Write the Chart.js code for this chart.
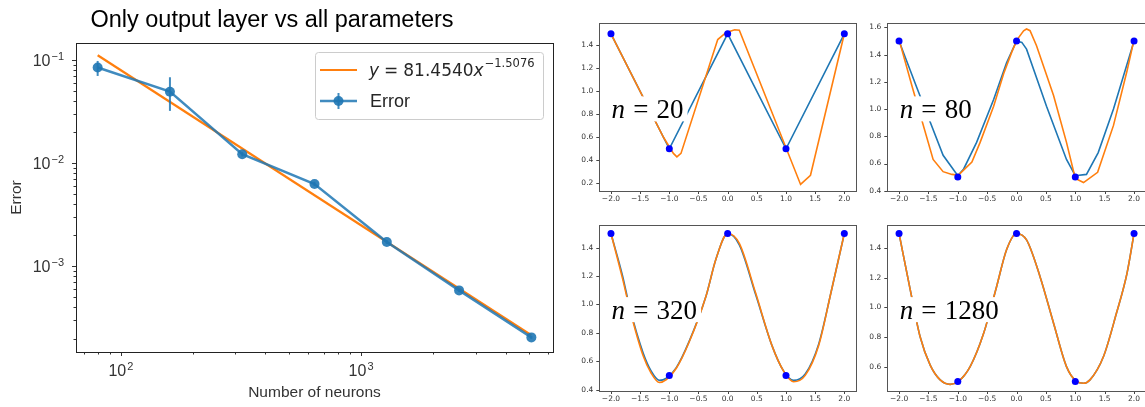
<!DOCTYPE html>
<html>
<head>
<meta charset="utf-8">
<script src="https://cdn.jsdelivr.net/npm/chart.js@4"></script>
<style>
  html, body { margin: 0; padding: 0; background: #fff; width: 1145px; height: 407px; overflow: hidden; }
  .box { position: absolute; }
</style>
</head>
<body>
<div class="box" style="left:0;top:0;width:575px;height:407px"><canvas id="main"></canvas></div>
<div class="box" style="left:575px;top:0;width:285px;height:210px"><canvas id="p20"></canvas></div>
<div class="box" style="left:860px;top:0;width:290px;height:210px"><canvas id="p80"></canvas></div>
<div class="box" style="left:575px;top:205px;width:285px;height:202px"><canvas id="p320"></canvas></div>
<div class="box" style="left:860px;top:205px;width:290px;height:202px"><canvas id="p1280"></canvas></div>
<script>
// ---- main panel data (log-log) ----
const neurons   = [80, 160, 320, 640, 1280, 2560, 5120];
const errorMean = [0.0845, 0.0493, 0.0122, 0.00627, 0.00172, 0.000585, 0.000205];
const errorLow  = [0.070, 0.0321, 0.0116, 0.0060, 0.00165, 0.000565, 0.000198];
const errorHigh = [0.0978, 0.068, 0.0128, 0.0066, 0.00179, 0.000605, 0.000212];
const fitX = [80, 5120];
const fitY = [0.111, 0.000215];
const xTickValues = [70, 80, 90, 100, 200, 300, 400, 500, 600, 700, 800, 900, 1000, 2000, 3000, 4000, 5000, 6000];
const yTickValues = [2e-4, 3e-4, 4e-4, 5e-4, 6e-4, 7e-4, 8e-4, 9e-4, 1e-3, 2e-3, 3e-3, 4e-3, 5e-3, 6e-3, 7e-3, 8e-3, 9e-3,
                     1e-2, 2e-2, 3e-2, 4e-2, 5e-2, 6e-2, 7e-2, 8e-2, 9e-2, 1e-1];
const majorTicks = [1e-3, 1e-2, 1e-1, 100, 1000];

// ---- small panels ----
const sampleX = [-2, -1, 0, 1, 2];
const sampleY = [1.5, 0.5, 1.5, 0.5, 1.5];
const smallXTicks = [-2, -1.5, -1, -0.5, 0, 0.5, 1, 1.5, 2];

const n20BlueX = [-2, -1, 0, 1, 2];
const n20BlueY = [1.5, 0.5, 1.5, 0.5, 1.5];
const n20OrangeX = [-2, -1.1, -0.93, -0.87, -0.8, -0.17, -0.03, 0.12, 0.2, 1.25, 1.42, 2];
const n20OrangeY = [1.5, 0.6, 0.46, 0.43, 0.46, 1.45, 1.51, 1.535, 1.53, 0.19, 0.27, 1.5];
const n20YTicks = [0.2, 0.4, 0.6, 0.8, 1.0, 1.2, 1.4];

const n80BlueX = [-2, -1.7, -1.25, -1.1, -1.0, -0.9, -0.68, -0.39, -0.17, 0, 0.09, 0.17, 0.51, 0.85, 1.0, 1.19, 1.39, 1.65, 2];
const n80BlueY = [1.5, 1.16, 0.66, 0.57, 0.51, 0.56, 0.755, 1.07, 1.34, 1.5, 1.49, 1.44, 1.02, 0.63, 0.51, 0.52, 0.68, 1.0, 1.5];
const n80OrangeX = [-2, -1.78, -1.42, -1.25, -1.1, -0.99, -0.76, -0.62, -0.39, -0.22, -0.08, 0.01, 0.12, 0.17, 0.23, 0.34, 0.63, 0.85, 1.0, 1.14, 1.38, 1.65, 1.88, 2];
const n80OrangeY = [1.51, 1.17, 0.63, 0.54, 0.52, 0.515, 0.61, 0.755, 1.02, 1.26, 1.42, 1.51, 1.575, 1.588, 1.576, 1.465, 1.1, 0.755, 0.49, 0.46, 0.535, 0.88, 1.28, 1.51];
const n80YTicks = [0.4, 0.6, 0.8, 1.0, 1.2, 1.4, 1.6];

const n320X = [-2, -1.8, -1.68, -1.45, -1.31, -1.17, -1.05, -0.88, -0.66, -0.37, -0.2, 0, 0.2, 0.48, 0.76, 0.96, 1.13, 1.33, 1.56, 1.78, 2];
const n320BlueY = [1.5, 1.2, 0.98, 0.66, 0.53, 0.465, 0.48, 0.555, 0.74, 1.06, 1.32, 1.5, 1.42, 1.07, 0.71, 0.53, 0.465, 0.51, 0.72, 1.1, 1.5];
const n320OrangeY = [1.5, 1.18, 0.97, 0.64, 0.515, 0.45, 0.47, 0.55, 0.735, 1.06, 1.32, 1.5, 1.43, 1.08, 0.71, 0.53, 0.455, 0.5, 0.71, 1.1, 1.5];
const n320YTicks = [0.4, 0.6, 0.8, 1.0, 1.2, 1.4];

const n1280X = [-2, -1.81, -1.64, -1.47, -1.3, -1.13, -0.99, -0.79, -0.56, -0.34, -0.17, 0, 0.17, 0.4, 0.63, 0.85, 1.02, 1.14, 1.25, 1.48, 1.7, 1.88, 2];
const n1280Y = [1.5, 1.12, 0.8, 0.61, 0.51, 0.48, 0.5, 0.6, 0.825, 1.14, 1.39, 1.5, 1.456, 1.208, 0.893, 0.6, 0.5, 0.487, 0.51, 0.668, 0.96, 1.23, 1.5];
const n1280YTicks = [0.6, 0.8, 1.0, 1.2, 1.4];

const BLUE = '#1f77b4', ORANGE = '#ff7f0e';
const SANS = '"Liberation Sans", Arial, sans-serif';
const zip = (xs, ys) => xs.map((x, i) => ({ x, y: ys[i] }));
const expOf = v => String(Math.round(Math.log10(v))).replace('-', '\u2212');

// ticks, frame and extra texts
const decor = {
  id: 'decor',
  afterDraw(chart, args, o) {
    const { ctx, chartArea: a } = chart;
    ctx.save();
    ctx.strokeStyle = o.tickColor;
    ctx.lineWidth = 1;
    for (const s of Object.values(chart.scales)) {
      for (const t of s.ticks) {
        const len = t.big ? o.majorLen : o.minorLen;
        const p = Math.round(s.getPixelForValue(t.value)) + 0.5;
        ctx.beginPath();
        if (s.axis === 'x') { ctx.moveTo(p, a.bottom); ctx.lineTo(p, a.bottom + len); }
        else { ctx.moveTo(a.left, p); ctx.lineTo(a.left - len, p); }
        ctx.stroke();
      }
    }
    ctx.strokeStyle = o.frameColor;
    ctx.strokeRect(Math.round(a.left) + 0.5, Math.round(a.top) + 0.5, Math.round(a.width), Math.round(a.height));

    // power-of-ten labels with a real superscript
    if (o.powLabels) {
      ctx.fillStyle = '#333';
      ctx.textBaseline = 'alphabetic';
      ctx.textAlign = 'left';
      for (const s of Object.values(chart.scales)) {
        for (const t of s.ticks) {
          if (!t.big) continue;
          const p = s.getPixelForValue(t.value), e = expOf(t.value);
          ctx.font = '16px ' + SANS;
          const wb = ctx.measureText('10').width;
          ctx.font = '11px ' + SANS;
          const we = ctx.measureText(e).width;
          let x0, base;
          if (s.axis === 'x') { x0 = p - (wb + we + 1) / 2; base = a.bottom + 24; }
          else { x0 = a.left - 12 - (wb + we + 1); base = p + 6; }
          ctx.font = '16px ' + SANS;
          ctx.fillText('10', x0, base);
          ctx.font = '11px ' + SANS;
          ctx.fillText(e, x0 + wb + 1, base - 6);
        }
      }
    }

    if (o.nLabel) {
      const x0 = a.left + 0.048 * a.width, base = a.top + 0.567 * a.height;
      const fs = 27, gap = 0.3 * fs;
      ctx.font = 'italic ' + fs + 'px "Liberation Serif", serif';
      const wn = ctx.measureText('n').width;
      ctx.font = fs + 'px "Liberation Serif", serif';
      const we = ctx.measureText('=').width, wd = ctx.measureText(o.nLabel).width;
      const w = wn + gap + we + gap + wd;
      ctx.fillStyle = '#fff';
      ctx.fillRect(x0 - 4, base - 22, w + 8, 25);
      ctx.fillStyle = '#000';
      ctx.textBaseline = 'alphabetic';
      ctx.textAlign = 'left';
      ctx.font = 'italic ' + fs + 'px "Liberation Serif", serif';
      ctx.fillText('n', x0, base);
      ctx.font = fs + 'px "Liberation Serif", serif';
      ctx.fillText('=', x0 + wn + gap, base);
      ctx.fillText(o.nLabel, x0 + wn + gap + we + gap, base);
    }

    if (o.title) {
      ctx.fillStyle = '#000';
      ctx.font = '23.5px ' + SANS;
      ctx.textAlign = 'center';
      ctx.textBaseline = 'alphabetic';
      ctx.fillText(o.title, 272, 27);
    }

    if (o.legend) {
      const W = 228, H = 67, L = a.right - 10 - W, T = a.top + 9;
      ctx.fillStyle = 'rgba(255,255,255,0.85)';
      ctx.strokeStyle = '#cccccc';
      ctx.lineWidth = 1;
      ctx.beginPath();
      ctx.roundRect(L + 0.5, T + 0.5, W, H, 3);
      ctx.fill();
      ctx.stroke();
      // fit entry
      const y1 = T + 18, y2 = T + 49;
      ctx.strokeStyle = ORANGE; ctx.lineWidth = 2.2;
      ctx.beginPath(); ctx.moveTo(L + 5, y1); ctx.lineTo(L + 42, y1); ctx.stroke();
      ctx.fillStyle = '#262626';
      ctx.textBaseline = 'alphabetic'; ctx.textAlign = 'left';
      let x = L + 54;
      const mfs = 17, base = y1 + 6;
      const seg = (txt, font) => { ctx.font = font; ctx.fillText(txt, x, base); x += ctx.measureText(txt).width; };
      seg('y', 'italic ' + mfs + 'px "DejaVu Sans"');
      x += 5;
      seg('=', mfs + 'px "DejaVu Sans"');
      x += 5;
      seg('81.4540', mfs + 'px "DejaVu Sans"');
      seg('x', 'italic ' + mfs + 'px "DejaVu Sans"');
      ctx.font = '11.5px "DejaVu Sans"';
      ctx.fillText(o.legend.exp, x + 1, base - 9);
      // error entry
      ctx.strokeStyle = 'rgba(31,119,180,0.85)'; ctx.lineWidth = 2.5;
      ctx.beginPath(); ctx.moveTo(L + 5, y2); ctx.lineTo(L + 42, y2); ctx.stroke();
      ctx.lineWidth = 2;
      ctx.beginPath(); ctx.moveTo(L + 23.5, y2 - 8); ctx.lineTo(L + 23.5, y2 + 8); ctx.stroke();
      ctx.fillStyle = 'rgba(31,119,180,0.9)';
      ctx.beginPath(); ctx.arc(L + 23.5, y2, 5, 0, Math.PI * 2); ctx.fill();
      ctx.fillStyle = '#262626';
      ctx.font = '18px ' + SANS;
      ctx.textBaseline = 'middle';
      ctx.fillText(o.legend.error, L + 55, y2 + 1);
    }
    ctx.restore();
  }
};

const setTicks = (values, majors) => s => { s.ticks = values.map(v => ({ value: v, big: majors ? majors.includes(v) : true })); };
const noGrid = { display: false, drawTicks: false, tickLength: 0 };

// ---- main chart ----
const errorBars = neurons.map((n, i) => ({
  data: [{ x: n, y: errorLow[i] }, { x: n, y: errorHigh[i] }],
  showLine: true, borderColor: 'rgba(31,119,180,0.85)', borderWidth: 2, pointRadius: 0, order: 1
}));

new Chart(document.getElementById('main'), {
  type: 'scatter',
  data: {
    datasets: [
      { label: 'Error', data: zip(neurons, errorMean), showLine: true, borderColor: 'rgba(31,119,180,0.85)',
        backgroundColor: 'rgba(31,119,180,0.9)', borderWidth: 2.5, pointRadius: 5, pointBorderWidth: 0, order: 0 },
      ...errorBars,
      { label: 'fit', data: zip(fitX, fitY), showLine: true, borderColor: ORANGE, borderWidth: 2.2, pointRadius: 0, order: 2 }
    ]
  },
  options: {
    responsive: true, maintainAspectRatio: false, animation: false,
    layout: { padding: { left: 0, top: 43, right: 22, bottom: 0 } },
    plugins: {
      legend: { display: false }, tooltip: { enabled: false },
      decor: { tickColor: '#333', frameColor: '#222', majorLen: 4, minorLen: 2.5, powLabels: true,
               title: 'Only output layer vs all parameters',
               legend: { exp: '\u22121.5076', error: 'Error' } }
    },
    scales: {
      x: {
        type: 'logarithmic', min: 65, max: 6300,
        grid: noGrid, border: { display: false },
        afterBuildTicks: setTicks(xTickValues, majorTicks),
        afterFit: s => { s.height = 55; },
        ticks: { autoSkip: false, maxRotation: 0, padding: 9, font: { family: SANS, size: 16 }, callback: () => '' },
        title: { display: true, text: 'Number of neurons', color: '#333', font: { family: SANS, size: 15.5 },
                 padding: { top: 0, bottom: 5 } }
      },
      y: {
        type: 'logarithmic', min: 1.48e-4, max: 0.146,
        grid: noGrid, border: { display: false },
        afterBuildTicks: setTicks(yTickValues, majorTicks),
        afterFit: s => { s.width = 76; },
        ticks: { autoSkip: false, padding: 12, font: { family: SANS, size: 16 }, callback: () => '' },
        title: { display: true, text: 'Error', color: '#333', font: { family: SANS, size: 15.5 },
                 padding: { top: 7, bottom: 0 } }
      }
    }
  },
  plugins: [decor]
});

// ---- small panels ----
function panel(id, blue, orange, yMin, yMax, yTicks, label, yAxisW, xAxisH, pad, smooth) {
  const line = (pts, color, order) => ({
    data: pts, showLine: true, borderColor: color, borderWidth: 1.6, pointRadius: 0, order,
    cubicInterpolationMode: smooth ? 'monotone' : 'default'
  });
  new Chart(document.getElementById(id), {
    type: 'scatter',
    data: {
      datasets: [
        { data: zip(sampleX, sampleY), backgroundColor: '#0000ff', pointRadius: 3.5, pointBorderWidth: 0, order: 0 },
        line(orange, ORANGE, 1),
        line(blue, BLUE, 2)
      ]
    },
    options: {
      responsive: true, maintainAspectRatio: false, animation: false,
      layout: { padding: pad },
      plugins: { legend: { display: false }, tooltip: { enabled: false },
                 decor: { tickColor: '#444', frameColor: '#555', majorLen: 3, minorLen: 3, nLabel: label } },
      scales: {
        x: {
          type: 'linear', min: -2.2, max: 2.2,
          grid: noGrid, border: { display: false },
          afterBuildTicks: setTicks(smallXTicks),
          afterFit: s => { s.height = xAxisH; },
          ticks: { autoSkip: false, maxRotation: 0, padding: 4, color: '#333', font: { family: '"DejaVu Sans"', size: 7.5 },
                   callback: v => (v < 0 ? '\u2212' : '') + Math.abs(v).toFixed(1) }
        },
        y: {
          type: 'linear', min: yMin, max: yMax,
          grid: noGrid, border: { display: false },
          afterBuildTicks: setTicks(yTicks),
          afterFit: s => { s.width = yAxisW; },
          ticks: { autoSkip: false, padding: 6, color: '#333', font: { family: '"DejaVu Sans"', size: 7.5 },
                   callback: v => v.toFixed(1) }
        }
      }
    },
    plugins: [decor]
  });
}

panel('p20', zip(n20BlueX, n20BlueY), zip(n20OrangeX, n20OrangeY), 0.133, 1.591, n20YTicks, '20',
      24.3, 19, { left: 0, top: 23.3, right: 2.3, bottom: 0 }, false);
panel('p80', zip(n80BlueX, n80BlueY), zip(n80OrangeX, n80OrangeY), 0.398, 1.63, n80YTicks, '80',
      27.3, 19, { left: 0, top: 23.3, right: 4.2, bottom: 0 }, false);
panel('p320', zip(n320X, n320BlueY), zip(n320X, n320OrangeY), 0.39, 1.56, n320YTicks, '320',
      24.3, 16, { left: 0, top: 20, right: 2.3, bottom: 0 }, true);
panel('p1280', zip(n1280X, n1280Y), zip(n1280X, n1280Y), 0.435, 1.557, n1280YTicks, '1280',
      27.3, 16, { left: 0, top: 20, right: 4.2, bottom: 0 }, true);
</script>
</body>
</html>
